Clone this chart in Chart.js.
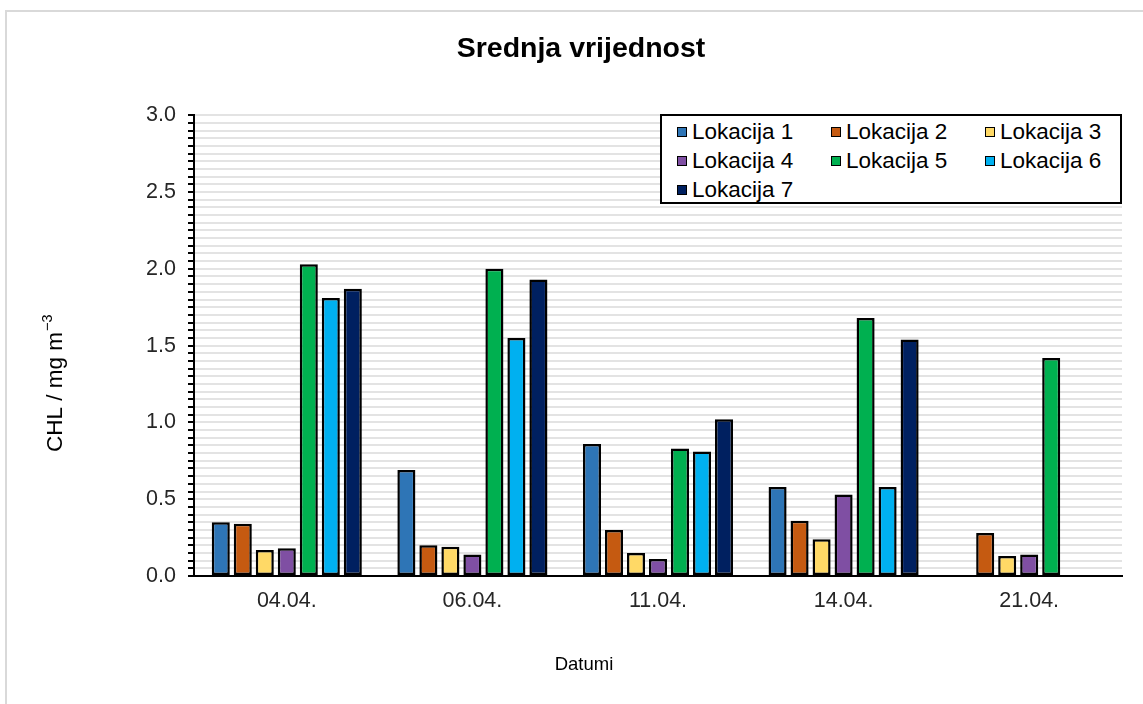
<!DOCTYPE html>
<html>
<head>
<meta charset="utf-8">
<title>Srednja vrijednost</title>
<script src="https://cdn.jsdelivr.net/npm/chart.js@4/dist/chart.umd.min.js"></script>
<style>
  body { margin: 0; background: #fff; overflow: hidden; }
  #frame { position: absolute; left: 5px; top: 10px; width: 1200px; height: 800px;
           border-left: 2px solid #d9d9d9; border-top: 2px solid #d9d9d9; }
  #chart { position: absolute; left: 0; top: 0; }
  #legend { position: absolute; left: 660px; top: 114px; width: 458px; height: 86px;
            border: 2px solid #000; background: #fff; padding: 0;
            font-family: 'Liberation Sans', Arial, sans-serif; font-size: 22.5px; color: #000; }
  .item { position: absolute; display: flex; align-items: center; height: 29px; white-space: nowrap; }
  .box { width: 8px; height: 8px; border: 1.5px solid #000; margin-right: 5px; }
</style>
</head>
<body>
<div id="frame"></div>
<canvas id="chart" width="1143" height="704"></canvas>
<div id="legend"></div>
<script>
// Datumi (kategorije)
const datumi = ['04.04.', '06.04.', '11.04.', '14.04.', '21.04.']

// Srednje vrijednosti CHL po lokacijama
const lokacija1 = [0.35, 0.69, 0.86, 0.58, null]
const lokacija2 = [0.34, 0.20, 0.30, 0.36, 0.28]
const lokacija3 = [0.17, 0.19, 0.15, 0.24, 0.13]
const lokacija4 = [0.18, 0.14, 0.11, 0.53, 0.14]
const lokacija5 = [2.03, 2.00, 0.83, 1.68, 1.42]
const lokacija6 = [1.81, 1.55, 0.81, 0.58, null]
const lokacija7 = [1.87, 1.93, 1.02, 1.54, null]

const nazivi = ['Lokacija 1', 'Lokacija 2', 'Lokacija 3', 'Lokacija 4', 'Lokacija 5', 'Lokacija 6', 'Lokacija 7']
const boje = ['#2E75B6', '#C55A11', '#FFD966', '#7F4FA3', '#00B050', '#00B0F0', '#002060']
const serije = [lokacija1, lokacija2, lokacija3, lokacija4, lokacija5, lokacija6, lokacija7]

const xNaslov = 'Datumi'
const yNaslov = 'CHL / mg m'
const yEksponent = '−3'

const font = "'Liberation Sans', Arial, sans-serif"
Chart.defaults.font.family = font
Chart.defaults.color = '#262626'

// Naslovi osi (x centriran na sliku, y s eksponentom)
const nasloviOsi = {
  id: 'nasloviOsi',
  afterDraw(chart) {
    const ctx = chart.ctx
    ctx.save()
    ctx.fillStyle = '#000'
    ctx.font = `18.5px ${font}`
    ctx.textAlign = 'center'
    ctx.textBaseline = 'middle'
    ctx.fillText(xNaslov, 584, 665)

    ctx.translate(62, 452)
    ctx.rotate(-Math.PI / 2)
    ctx.textAlign = 'left'
    ctx.textBaseline = 'alphabetic'
    ctx.font = `22.5px ${font}`
    ctx.fillText(yNaslov, 0, 0)
    const w = ctx.measureText(yNaslov).width
    ctx.font = `14.5px ${font}`
    ctx.fillText(yEksponent, w + 1, -10)
    ctx.restore()
  }
}

const datasets = serije.map((vals, i) => ({
  label: nazivi[i],
  data: vals,
  backgroundColor: boje[i],
  borderColor: '#000',
  borderWidth: 2.5,
  borderSkipped: false,
  categoryPercentage: 0.83,
  barPercentage: 0.82
}))

const chart = new Chart(document.getElementById('chart'), {
  type: 'bar',
  data: { labels: datumi, datasets },
  plugins: [nasloviOsi],
  options: {
    responsive: false,
    animation: false,
    layout: { padding: { left: 40, right: 21, top: 0, bottom: 0 } },
    plugins: {
      legend: { display: false },
      tooltip: { enabled: false },
      title: {
        display: true,
        text: 'Srednja vrijednost',
        color: '#000',
        font: { size: 28.5, weight: 'bold' },
        padding: { top: 32, bottom: 49 }
      }
    },
    scales: {
      x: {
        grid: { display: false, drawTicks: false },
        border: { display: true, color: '#000', width: 2 },
        ticks: { padding: 12, font: { size: 21.5 }, color: '#262626' },
        afterFit: s => { s.height = 128 }
      },
      y: {
        min: 0,
        max: 3,
        ticks: {
          stepSize: 0.05,
          autoSkip: false,
          padding: 12,
          font: { size: 21.5 },
          color: '#262626',
          callback: v => Math.abs(v * 2 - Math.round(v * 2)) < 1e-6 ? v.toFixed(1) : ''
        },
        grid: {
          color: ctx => ctx.tick && ctx.tick.value === 0 ? 'rgba(0,0,0,0)' : '#e3e3e3',
          lineWidth: 2,
          tickColor: '#000',
          tickLength: 6,
          tickWidth: 2
        },
        border: { display: true, color: '#000', width: 2 },
        afterFit: s => { s.width = 154 }
      }
    }
  }
})

// Legenda (HTML, iz skupova podataka grafa)
const legend = document.getElementById('legend')
chart.data.datasets.forEach((ds, i) => {
  const item = document.createElement('div')
  item.className = 'item'
  item.style.left = (15 + (i % 3) * 154) + 'px'
  item.style.top = (1 + Math.floor(i / 3) * 29) + 'px'
  const box = document.createElement('span')
  box.className = 'box'
  box.style.background = ds.backgroundColor
  item.appendChild(box)
  item.appendChild(document.createTextNode(ds.label))
  legend.appendChild(item)
})
</script>
</body>
</html>
